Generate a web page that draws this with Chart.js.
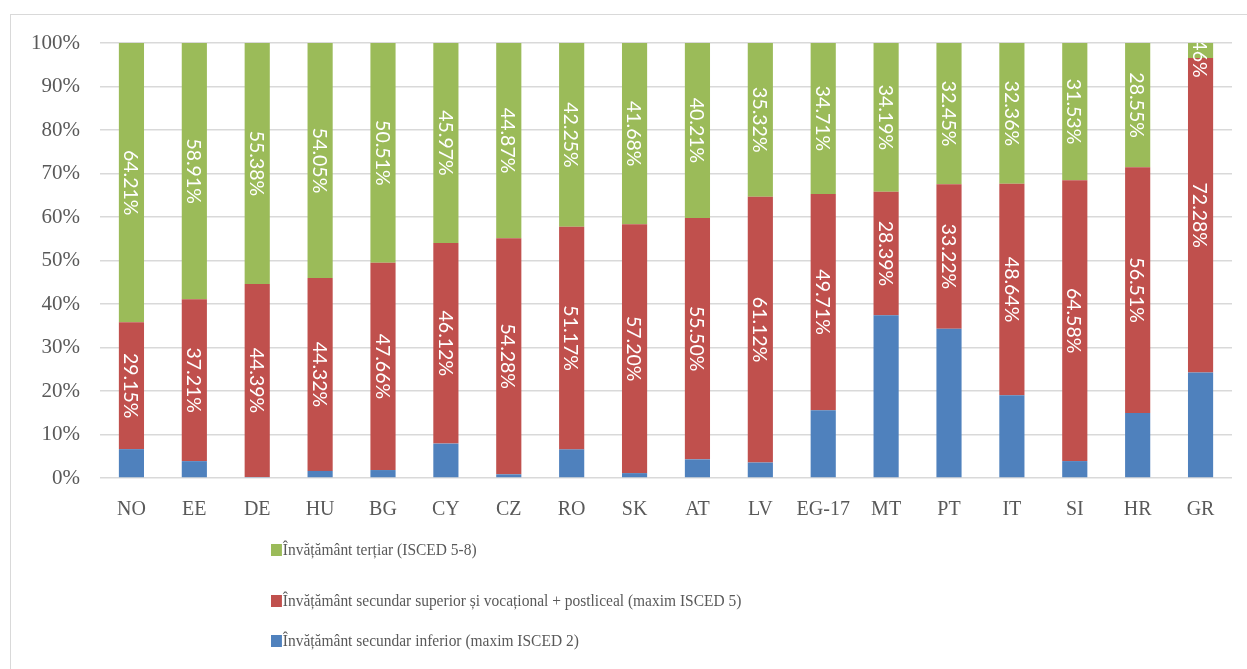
<!DOCTYPE html>
<html>
<head>
<meta charset="utf-8">
<script src="https://cdn.jsdelivr.net/npm/chart.js@4.4.1/dist/chart.umd.min.js"></script>
<style>
  html, body { margin: 0; padding: 0; background: #fff; }
  #wrap { position: relative; width: 1247px; height: 669px; overflow: hidden; }
  #frame { position: absolute; left: 10px; top: 14px; width: 1300px; height: 700px; border: 1.5px solid #d9d9d9; box-sizing: border-box; }
  #c { position: absolute; left: 0; top: 0; }
  #legend { position: absolute; left: 271px; top: 539px; font-family: "Liberation Serif", serif; font-size: 17px; color: #595959; transform: scaleX(0.91); transform-origin: left top; }
  #legend .item { height: 22px; line-height: 22px; display: flex; align-items: center; white-space: nowrap; }
  #legend .sw { width: 12px; height: 12px; margin-right: 1px; display: inline-block; }
</style>
</head>
<body>
<div id="wrap">
  <div id="frame"></div>
  <canvas id="c" width="1247" height="669"></canvas>
  <div id="legend"></div>
</div>
<script>
const categories = ["NO","EE","DE","HU","BG","CY","CZ","RO","SK","AT","LV","EG-17","MT","PT","IT","SI","HR","GR"];
const lowerSecondary = [6.64,3.88,0.23,1.63,1.83,7.91,0.85,6.58,1.12,4.29,3.56,15.58,37.42,34.33,19.00,3.89,14.94,24.26];
const upperSecondary = [29.15,37.21,44.39,44.32,47.66,46.12,54.28,51.17,57.20,55.50,61.12,49.71,28.39,33.22,48.64,64.58,56.51,72.28];
const tertiary = [64.21,58.91,55.38,54.05,50.51,45.97,44.87,42.25,41.68,40.21,35.32,34.71,34.19,32.45,32.36,31.53,28.55,3.46];
const yTicks = [0,10,20,30,40,50,60,70,80,90,100];
const seriesNames = [
  "Învățământ secundar inferior (maxim ISCED 2)",
  "Învățământ secundar superior și vocațional + postliceal (maxim ISCED 5)",
  "Învățământ terțiar (ISCED 5-8)"
];
const seriesColors = ["#4F81BD","#C0504D","#9BBB59"];

const labelPlugin = {
  id: 'segLabels',
  afterDatasetsDraw(chart) {
    const ctx = chart.ctx;
    const a = chart.chartArea;
    ctx.save();
    ctx.beginPath();
    ctx.rect(a.left, a.top, a.right - a.left, a.bottom - a.top);
    ctx.clip();
    ctx.fillStyle = '#ffffff';
    ctx.font = '19.5px Lato, sans-serif';
    ctx.textAlign = 'center';
    ctx.textBaseline = 'middle';
    [1, 2].forEach(di => {
      const meta = chart.getDatasetMeta(di);
      const data = chart.data.datasets[di].data;
      meta.data.forEach((bar, i) => {
        const p = bar.getProps(['x','y','base'], true);
        const cy = (p.y + p.base) / 2;
        ctx.save();
        ctx.translate(p.x, cy);
        ctx.rotate(Math.PI / 2);
        ctx.fillText(data[i].toFixed(2) + '%', 0, 1);
        ctx.restore();
      });
    });
    ctx.restore();
  }
};

const seriesData = [lowerSecondary, upperSecondary, tertiary];
const chart = new Chart(document.getElementById('c'), {
  type: 'bar',
  data: {
    labels: categories,
    datasets: seriesData.map((d, i) => ({
      label: seriesNames[i],
      data: d,
      backgroundColor: seriesColors[i],
      borderWidth: 0,
      categoryPercentage: 1,
      barPercentage: 0.4
    }))
  },
  options: {
    responsive: false,
    animation: false,
    layout: { padding: { left: 0, right: 15, top: 43, bottom: 0 } },
    plugins: { legend: { display: false }, tooltip: { enabled: false } },
    scales: {
      x: {
        stacked: true,
        grid: { display: false },
        border: { display: false },
        ticks: { color: '#595959', font: { family: 'Liberation Serif', size: 20 }, padding: 12, maxRotation: 0 },
        afterFit(s) { s.height = 191; }
      },
      y: {
        stacked: true,
        min: 0, max: 100,
        afterBuildTicks(s) { s.ticks = yTicks.map(v => ({ value: v })); },
        grid: { color: '#d9d9d9', lineWidth: 1.5, drawTicks: false },
        border: { display: false },
        ticks: { color: '#595959', font: { family: 'Liberation Serif', size: 21 }, padding: 20, callback: v => v + '%' },
        afterFit(s) { s.width = 100; }
      }
    }
  },
  plugins: [labelPlugin]
});

const legend = document.getElementById('legend');
[2, 1, 0].forEach((i, k) => {
  const it = document.createElement('div');
  it.className = 'item';
  it.style.marginTop = k === 0 ? '0px' : (k === 1 ? '29px' : '18px');
  const sw = document.createElement('span');
  sw.className = 'sw';
  sw.style.background = chart.data.datasets[i].backgroundColor;
  const tx = document.createElement('span');
  tx.textContent = chart.data.datasets[i].label;
  it.appendChild(sw); it.appendChild(tx);
  legend.appendChild(it);
});
</script>
</body>
</html>
